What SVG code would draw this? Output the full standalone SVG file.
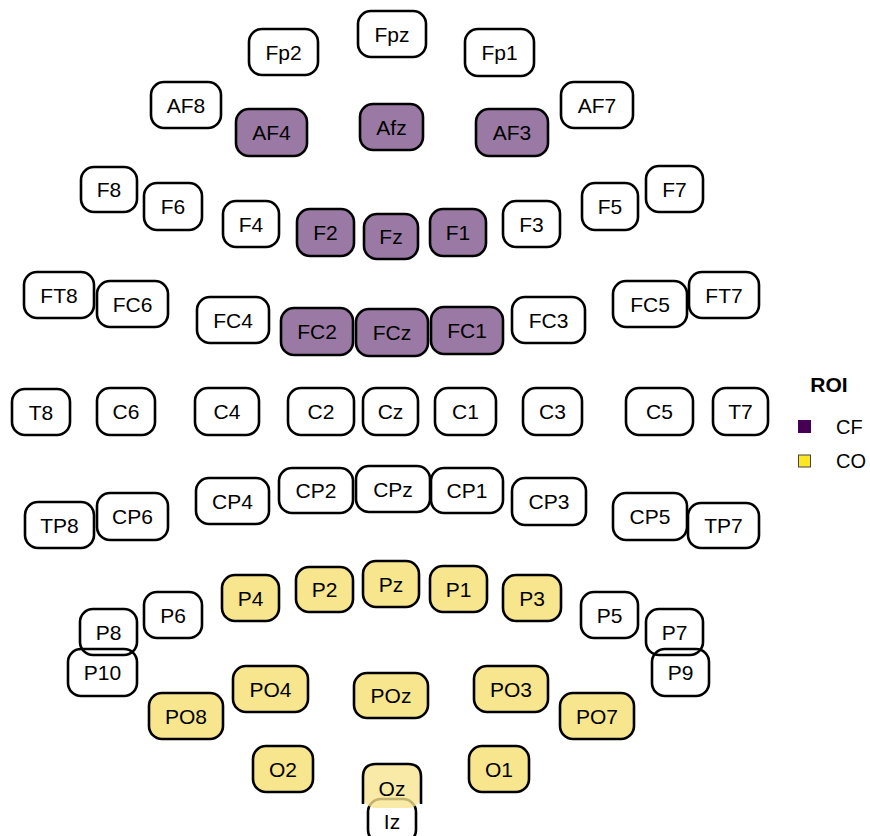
<svg xmlns="http://www.w3.org/2000/svg" width="870" height="836" viewBox="0 0 870 836">
<style>
  .n rect { stroke: #000; stroke-width: 2.6; }
  .w rect { fill: none; }
  .p rect { fill: #9B79A5; }
  .y rect { fill: #F7E68E; }
  .n text { font-family: "Liberation Sans", Arial, sans-serif; font-size: 21px; fill: #000; text-anchor: middle; }
  .lg { font-family: "Liberation Sans", Arial, sans-serif; font-size: 20px; fill: #000; }
</style>
<rect width="870" height="836" fill="#fff"/>
<g id="connectors"/>
<g id="nodes">
<g id="Fpz" class="n w"><rect x="358" y="11" width="68" height="46" rx="13"/><text x="392" y="41.5">Fpz</text></g>
<g id="Fp2" class="n w"><rect x="249" y="29" width="69" height="46" rx="13"/><text x="283.5" y="59.5">Fp2</text></g>
<g id="Fp1" class="n w"><rect x="465" y="29" width="69" height="47" rx="13"/><text x="499.5" y="60">Fp1</text></g>
<g id="AF8" class="n w"><rect x="151" y="82" width="70" height="46" rx="13"/><text x="186" y="112.5">AF8</text></g>
<g id="AF7" class="n w"><rect x="561" y="82" width="72" height="46" rx="13"/><text x="597" y="112.5">AF7</text></g>
<g id="AF4" class="n p"><rect x="236" y="109" width="71" height="47" rx="13"/><text x="271.5" y="140">AF4</text></g>
<g id="Afz" class="n p"><rect x="360" y="104" width="63" height="46" rx="13"/><text x="391.5" y="134.5">Afz</text></g>
<g id="AF3" class="n p"><rect x="476" y="109" width="72" height="47" rx="13"/><text x="512" y="140">AF3</text></g>
<g id="F8" class="n w"><rect x="81" y="167" width="56" height="45" rx="13"/><text x="109" y="197">F8</text></g>
<g id="F7" class="n w"><rect x="646" y="166" width="57" height="46" rx="13"/><text x="674.5" y="196.5">F7</text></g>
<g id="F6" class="n w"><rect x="144" y="183" width="58" height="47" rx="13"/><text x="173" y="214">F6</text></g>
<g id="F5" class="n w"><rect x="582" y="183" width="56" height="47" rx="13"/><text x="610" y="214">F5</text></g>
<g id="F4" class="n w"><rect x="223" y="201" width="56" height="46" rx="13"/><text x="251" y="231.5">F4</text></g>
<g id="F3" class="n w"><rect x="503" y="201" width="57" height="46" rx="13"/><text x="531.5" y="231.5">F3</text></g>
<g id="F2" class="n p"><rect x="297" y="209" width="57" height="47" rx="13"/><text x="325.5" y="240">F2</text></g>
<g id="Fz" class="n p"><rect x="364" y="214" width="54" height="45" rx="13"/><text x="391" y="244">Fz</text></g>
<g id="F1" class="n p"><rect x="430" y="209" width="56" height="47" rx="13"/><text x="458" y="240">F1</text></g>
<g id="FT8" class="n w"><rect x="24" y="272" width="70" height="46" rx="13"/><text x="59" y="302.5">FT8</text></g>
<g id="FT7" class="n w"><rect x="689" y="272" width="70" height="46" rx="13"/><text x="724" y="302.5">FT7</text></g>
<g id="FC6" class="n w"><rect x="97" y="281" width="71" height="46" rx="13"/><text x="132.5" y="311.5">FC6</text></g>
<g id="FC5" class="n w"><rect x="613" y="281" width="74" height="46" rx="13"/><text x="650" y="311.5">FC5</text></g>
<g id="FC4" class="n w"><rect x="197" y="297" width="72" height="46" rx="13"/><text x="233" y="327.5">FC4</text></g>
<g id="FC3" class="n w"><rect x="512" y="297" width="73" height="46" rx="13"/><text x="548.5" y="327.5">FC3</text></g>
<g id="FC2" class="n p"><rect x="281" y="308" width="72" height="47" rx="13"/><text x="317" y="339">FC2</text></g>
<g id="FCz" class="n p"><rect x="356" y="309" width="72" height="47" rx="13"/><text x="392" y="340">FCz</text></g>
<g id="FC1" class="n p"><rect x="431" y="307" width="72" height="47" rx="13"/><text x="467" y="338">FC1</text></g>
<g id="T8" class="n w"><rect x="12" y="389" width="58" height="46" rx="13"/><text x="41" y="419.5">T8</text></g>
<g id="C6" class="n w"><rect x="97" y="388" width="58" height="47" rx="13"/><text x="126" y="419">C6</text></g>
<g id="C4" class="n w"><rect x="195" y="388" width="64" height="47" rx="13"/><text x="227" y="419">C4</text></g>
<g id="C2" class="n w"><rect x="288" y="388" width="66" height="47" rx="13"/><text x="321" y="419">C2</text></g>
<g id="Cz" class="n w"><rect x="363" y="388" width="55" height="47" rx="13"/><text x="390.5" y="419">Cz</text></g>
<g id="C1" class="n w"><rect x="435" y="388" width="61" height="47" rx="13"/><text x="465.5" y="419">C1</text></g>
<g id="C3" class="n w"><rect x="523" y="388" width="59" height="47" rx="13"/><text x="552.5" y="419">C3</text></g>
<g id="C5" class="n w"><rect x="626" y="388" width="67" height="47" rx="13"/><text x="659.5" y="419">C5</text></g>
<g id="T7" class="n w"><rect x="713" y="388" width="55" height="47" rx="13"/><text x="740.5" y="419">T7</text></g>
<g id="CP2" class="n w"><rect x="279" y="468" width="74" height="45" rx="13"/><text x="316" y="498">CP2</text></g>
<g id="CPz" class="n w"><rect x="356" y="466" width="74" height="46" rx="13"/><text x="393" y="496.5">CPz</text></g>
<g id="CP1" class="n w"><rect x="431" y="468" width="72" height="45" rx="13"/><text x="467" y="498">CP1</text></g>
<g id="CP4" class="n w"><rect x="196" y="478" width="73" height="46" rx="13"/><text x="232.5" y="508.5">CP4</text></g>
<g id="CP3" class="n w"><rect x="512" y="478" width="74" height="47" rx="13"/><text x="549" y="509">CP3</text></g>
<g id="CP6" class="n w"><rect x="97" y="493" width="71" height="47" rx="13"/><text x="132.5" y="524">CP6</text></g>
<g id="CP5" class="n w"><rect x="613" y="493" width="74" height="47" rx="13"/><text x="650" y="524">CP5</text></g>
<g id="TP8" class="n w"><rect x="25" y="502" width="69" height="46" rx="13"/><text x="59.5" y="532.5">TP8</text></g>
<g id="TP7" class="n w"><rect x="688" y="503" width="71" height="45" rx="13"/><text x="723.5" y="533">TP7</text></g>
<g id="Pz" class="n y"><rect x="363" y="561" width="56" height="46" rx="13"/><text x="391" y="591.5">Pz</text></g>
<g id="P2" class="n y"><rect x="296" y="567" width="57" height="45" rx="13"/><text x="324.5" y="597">P2</text></g>
<g id="P1" class="n y"><rect x="430" y="566" width="57" height="46" rx="13"/><text x="458.5" y="596.5">P1</text></g>
<g id="P4" class="n y"><rect x="222" y="575" width="57" height="46" rx="13"/><text x="250.5" y="605.5">P4</text></g>
<g id="P3" class="n y"><rect x="503" y="575" width="58" height="46" rx="13"/><text x="532" y="605.5">P3</text></g>
<g id="P6" class="n w"><rect x="144" y="592" width="58" height="46" rx="13"/><text x="173" y="622.5">P6</text></g>
<g id="P5" class="n w"><rect x="581" y="592" width="57" height="46" rx="13"/><text x="609.5" y="622.5">P5</text></g>
<g id="P10" class="n w"><rect x="68" y="649" width="69" height="47" rx="13"/><text x="102.5" y="680">P10</text></g>
<g id="P9" class="n w"><rect x="652" y="649" width="57" height="47" rx="13"/><text x="680.5" y="680">P9</text></g>
<g id="P8" class="n w"><rect x="80" y="609" width="57" height="46" rx="13"/><text x="108.5" y="639.5">P8</text></g>
<g id="P7" class="n w"><rect x="646" y="609" width="57" height="46" rx="13"/><text x="674.5" y="639.5">P7</text></g>
<g id="PO4" class="n y"><rect x="233" y="666" width="75" height="46" rx="13"/><text x="270.5" y="696.5">PO4</text></g>
<g id="PO3" class="n y"><rect x="474" y="666" width="74" height="46" rx="13"/><text x="511" y="696.5">PO3</text></g>
<g id="POz" class="n y"><rect x="354" y="673" width="74" height="45" rx="13"/><text x="391" y="703">POz</text></g>
<g id="PO8" class="n y"><rect x="149" y="693" width="74" height="46" rx="13"/><text x="186" y="723.5">PO8</text></g>
<g id="PO7" class="n y"><rect x="560" y="693" width="74" height="46" rx="13"/><text x="597" y="723.5">PO7</text></g>
<g id="O2" class="n y"><rect x="253" y="746" width="60" height="46" rx="13"/><text x="283" y="776.5">O2</text></g>
<g id="O1" class="n y"><rect x="469" y="746" width="60" height="46" rx="13"/><text x="499" y="776.5">O1</text></g>
<g id="Iz" class="n"><rect x="368" y="799" width="48" height="44" rx="13" fill="#fff"/><text x="392" y="829">Iz</text></g>
<g id="Oz" class="n"><rect x="363" y="764" width="58" height="44" rx="13" fill="#F7E68E" fill-opacity="0.78" style="stroke:none"/><path d="M363 804 V777 Q363 764 376 764 H408 Q421 764 421 777 V804" fill="none" stroke="#000" stroke-width="2.6"/><text x="392" y="796">Oz</text></g>
</g>
<g id="legend">
<text x="829" y="392" class="lg" style="font-weight:bold;font-size:21px" text-anchor="middle">ROI</text>
<rect x="798" y="420" width="13" height="13" fill="#440154"/>
<text x="836" y="434" class="lg">CF</text>
<rect x="798.5" y="455" width="12" height="12" fill="#FDE725" stroke="#444" stroke-width="1"/>
<text x="836" y="468" class="lg">CO</text>
</g>
</svg>
